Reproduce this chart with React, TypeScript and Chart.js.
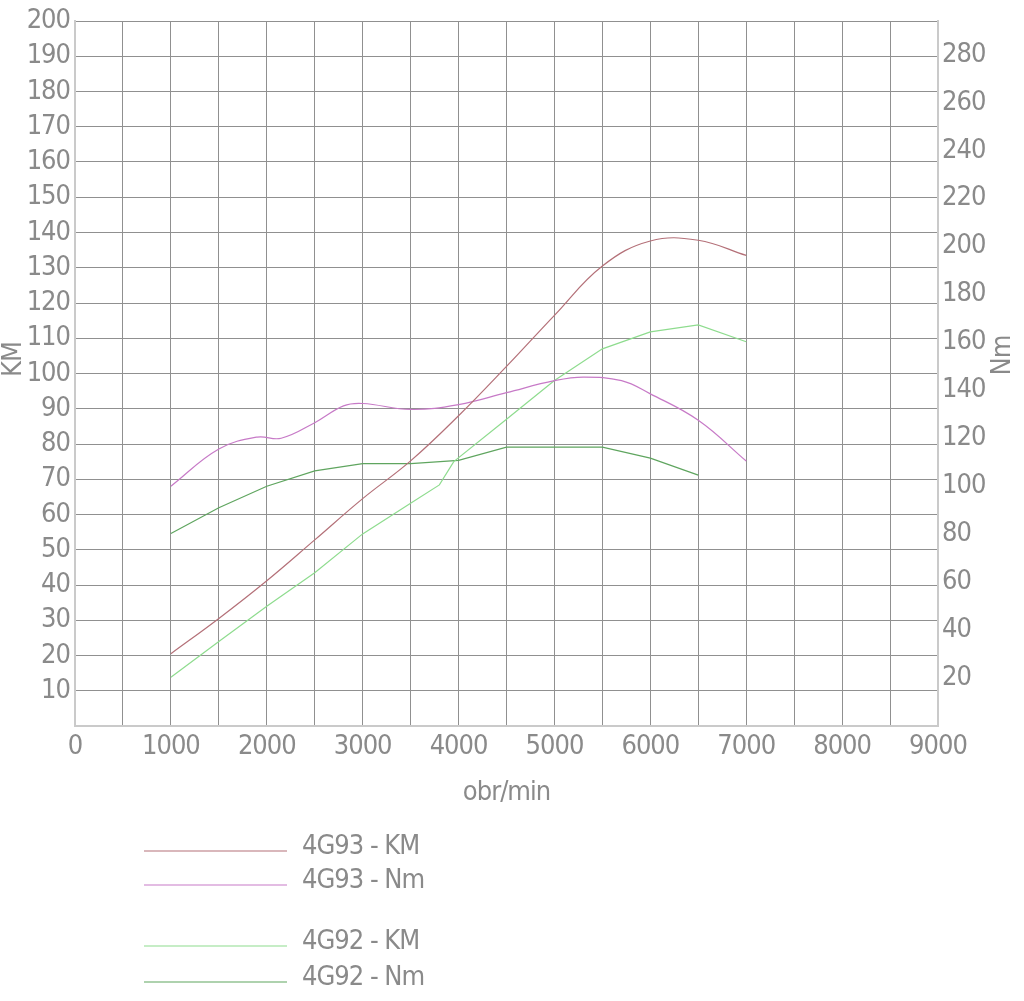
import React, { useEffect, useRef } from "react";
import { Chart, registerables } from "chart.js";

Chart.register(...registerables);

// ---- data ----
const rpm4G93KM = [1000, 1500, 2000, 2500, 3000, 3500, 4000, 4500, 5000, 5500, 6000, 6500, 7000];
const km4G93 = [20.5, 30.5, 41.2, 52.8, 64.5, 75.2, 88, 102, 116.5, 130.5, 137.6, 137.8, 133.5];

const rpm4G93Nm = [1000, 1500, 1900, 2150, 2500, 2800, 3000, 3500, 4000, 4500, 5000, 5300, 5700, 6000, 6500, 7000];
const nm4G93 = [100, 115.5, 120.5, 120, 126.5, 133.5, 134.5, 132, 134, 139, 144, 145.5, 144, 138.5, 127.5, 110.5];

const rpm4G92KM = [1000, 1500, 2000, 2500, 3000, 3500, 3800, 3950, 4500, 5000, 5500, 6000, 6500, 7000];
const km4G92 = [13.8, 24, 34, 43.5, 54.5, 63.2, 68.4, 75, 87, 98, 107, 111.8, 113.8, 109];

const rpm4G92Nm = [1000, 1500, 2000, 2500, 3000, 3500, 4000, 4500, 5000, 5500, 6000, 6500];
const nm4G92 = [80.3, 91, 100, 106.4, 109.4, 109.4, 110.8, 116.3, 116.3, 116.3, 111.7, 104.6];

const seriesLabels = ["4G93 - KM", "4G93 - Nm", "4G92 - KM", "4G92 - Nm"];
const seriesColors = ["#b47078", "#c77ac7", "#8edc8e", "#5fa55f"];

const xTitle = "obr/min";
const yLeftTitle = "KM";
const yRightTitle = "Nm";

const FONT = "'Liberation Sans Narrow', 'DejaVu Sans Condensed', 'Liberation Sans', sans-serif";
const TEXT_COLOR = "#8a8a8a";
const GRID_COLOR = "#909090";
const BORDER_COLOR = "#cacaca";
const FONT_SIZE = 27;

const toPoints = (xs: number[], ys: number[]) => xs.map((x, i) => ({ x, y: ys[i] }));

const extrasPlugin = {
  id: "extras",
  beforeInit(chart: any) {
    try {
      chart.ctx.letterSpacing = "-1px";
    } catch (e) {}
  },
  beforeDraw(chart: any) {
    const { ctx } = chart;
    try {
      ctx.letterSpacing = "-1px";
    } catch (e) {}
    ctx.save();
    ctx.fillStyle = "#ffffff";
    ctx.fillRect(0, 0, chart.width, chart.height);
    ctx.restore();
  },
  afterDraw(chart: any) {
    const { ctx, chartArea } = chart;
    ctx.save();
    ctx.font = `${FONT_SIZE}px ${FONT}`;
    ctx.fillStyle = TEXT_COLOR;
    ctx.textAlign = "center";
    ctx.textBaseline = "middle";
    // y titles (both read bottom-to-top)
    const midY = (chartArea.top + chartArea.bottom) / 2 - 14;
    ctx.save();
    ctx.translate(14, midY);
    ctx.rotate(-Math.PI / 2);
    ctx.fillText(yLeftTitle, 0, 0);
    ctx.restore();
    ctx.save();
    ctx.translate(1003, midY - 4);
    ctx.rotate(-Math.PI / 2);
    ctx.fillText(yRightTitle, 0, 0);
    ctx.restore();

    // legend
    const rowsY = [851, 885, 946, 982];
    chart.data.datasets.forEach((ds: any, i: number) => {
      const y = rowsY[i];
      ctx.strokeStyle = ds.borderColor;
      ctx.lineWidth = 1.2;
      ctx.beginPath();
      ctx.moveTo(144, y);
      ctx.lineTo(287, y);
      ctx.stroke();
      ctx.fillStyle = TEXT_COLOR;
      ctx.textAlign = "left";
      ctx.textBaseline = "middle";
      ctx.fillText(ds.label, 302, y - 4);
    });
    ctx.restore();
  },
};

export default function App() {
  const ref = useRef<HTMLCanvasElement | null>(null);

  useEffect(() => {
    if (!ref.current) return;
    const tickFont = { family: FONT, size: FONT_SIZE, lineHeight: 1 };
    const chart = new Chart(ref.current, {
      type: "line",
      data: {
        datasets: [
          {
            label: seriesLabels[0],
            data: toPoints(rpm4G93KM, km4G93),
            borderColor: seriesColors[0],
            borderWidth: 1.2,
            pointRadius: 0,
            tension: 0.4,
            yAxisID: "y",
          },
          {
            label: seriesLabels[1],
            data: toPoints(rpm4G93Nm, nm4G93),
            borderColor: seriesColors[1],
            borderWidth: 1.2,
            pointRadius: 0,
            tension: 0.4,
            yAxisID: "y1",
          },
          {
            label: seriesLabels[2],
            data: toPoints(rpm4G92KM, km4G92),
            borderColor: seriesColors[2],
            borderWidth: 1.2,
            pointRadius: 0,
            tension: 0,
            yAxisID: "y",
          },
          {
            label: seriesLabels[3],
            data: toPoints(rpm4G92Nm, nm4G92),
            borderColor: seriesColors[3],
            borderWidth: 1.2,
            pointRadius: 0,
            tension: 0,
            yAxisID: "y1",
          },
        ],
      },
      options: {
        animation: false,
        responsive: false,
        maintainAspectRatio: false,
        layout: { padding: { top: 21, left: 0, right: 0, bottom: 195 } },
        plugins: {
          legend: { display: false },
          tooltip: { enabled: false },
        },
        scales: {
          x: {
            type: "linear",
            min: 0,
            max: 9000,
            ticks: {
              stepSize: 500,
              autoSkip: false,
              maxRotation: 0,
              padding: 7,
              color: TEXT_COLOR,
              font: tickFont,
              callback: (v: any) => (Number(v) % 1000 === 0 ? String(v) : ""),
            },
            grid: { color: GRID_COLOR, lineWidth: 1, drawTicks: false },
            border: { color: BORDER_COLOR, width: 2 },
            title: {
              display: true,
              text: xTitle,
              color: TEXT_COLOR,
              font: { family: FONT, size: FONT_SIZE, lineHeight: 1 },
              padding: { top: 6, bottom: 0 },
            },
            afterFit: (s: any) => {
              s.height = 80;
            },
          },
          y: {
            type: "linear",
            position: "left",
            min: 0,
            max: 200,
            ticks: {
              stepSize: 10,
              autoSkip: false,
              padding: 5,
              color: TEXT_COLOR,
              font: tickFont,
              callback: (v: any) => (Number(v) === 0 ? "" : String(v)),
            },
            grid: { color: GRID_COLOR, lineWidth: 1, drawTicks: false },
            border: { color: BORDER_COLOR, width: 2 },
            afterFit: (s: any) => {
              s.width = 75;
            },
          },
          y1: {
            type: "linear",
            position: "right",
            min: 0,
            max: 294,
            ticks: {
              stepSize: 20,
              autoSkip: false,
              padding: 4,
              color: TEXT_COLOR,
              font: tickFont,
            },
            afterBuildTicks: (s: any) => {
              s.ticks = s.ticks.filter((t: any) => t.value > 0 && t.value % 20 === 0);
            },
            grid: { drawOnChartArea: false, drawTicks: false },
            border: { color: BORDER_COLOR, width: 2 },
            afterFit: (s: any) => {
              s.width = 86;
            },
          },
        },
      },
      plugins: [extrasPlugin],
    } as any);
    return () => chart.destroy();
  }, []);

  return (
    <div style={{ position: "absolute", left: 0, top: 0, width: 1024, height: 1001, background: "#fff" }}>
      <canvas ref={ref} width={1024} height={1001} style={{ width: 1024, height: 1001, display: "block" }} />
    </div>
  );
}
